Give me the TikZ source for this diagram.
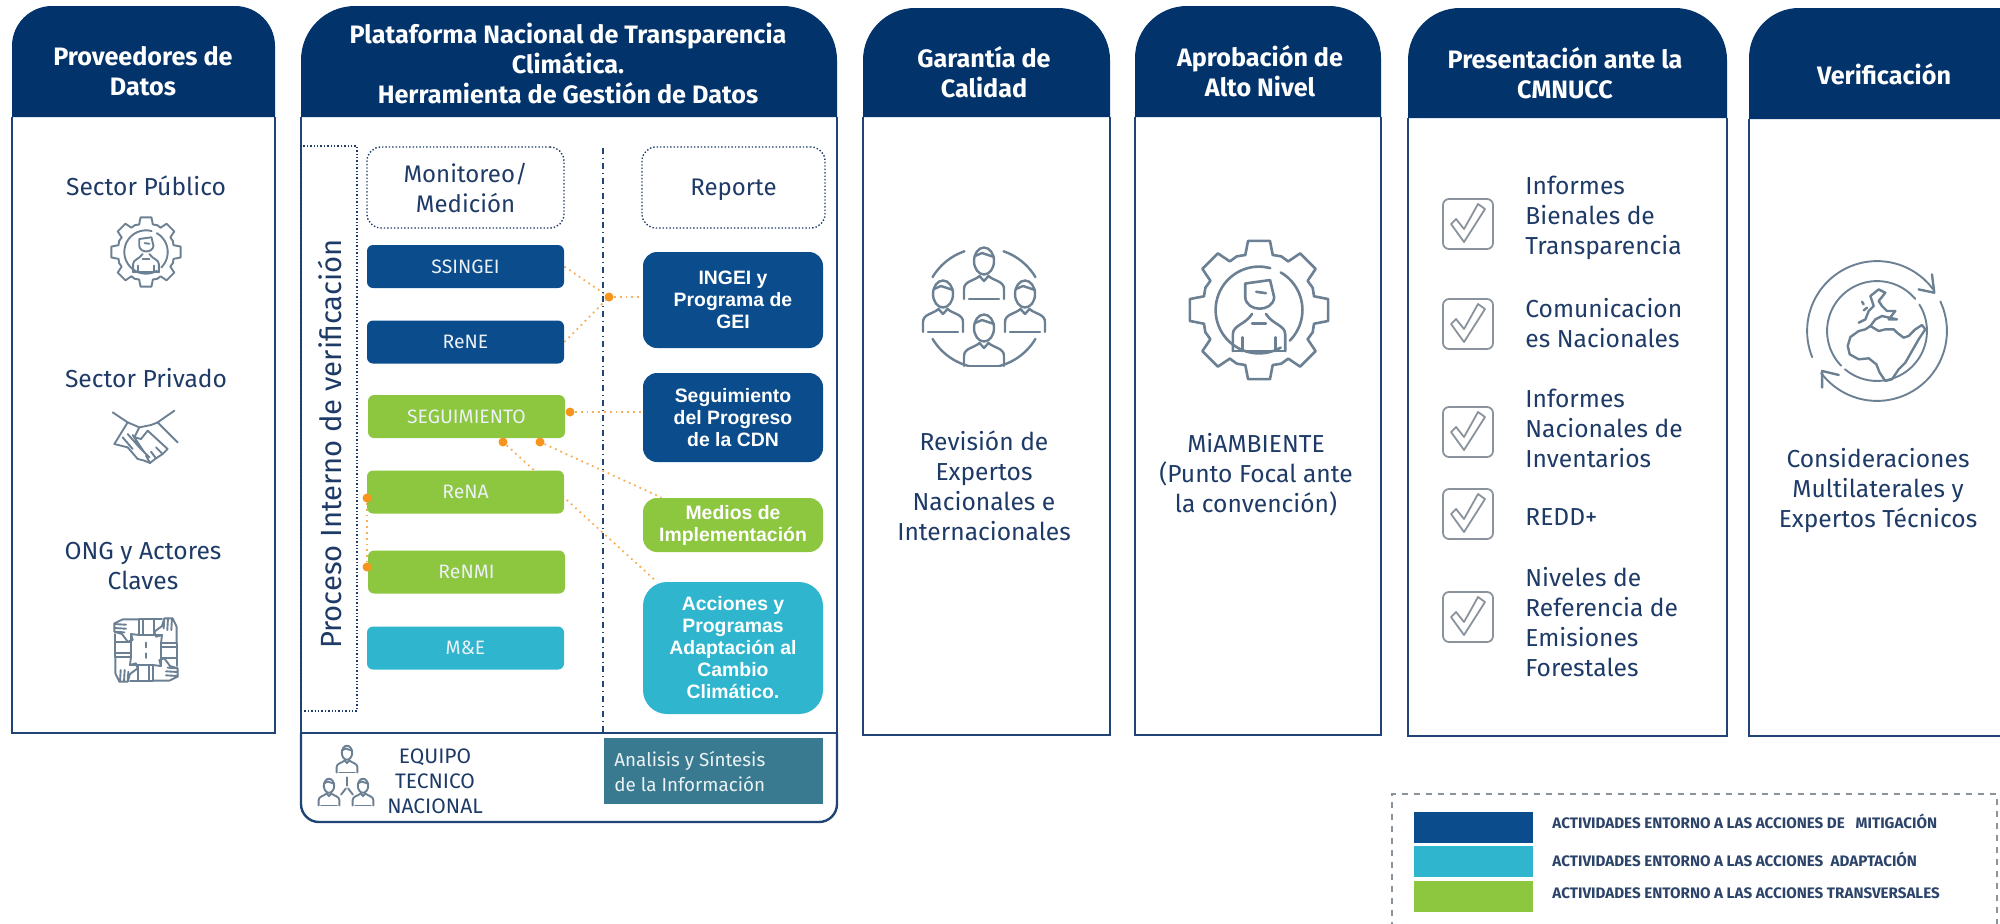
\documentclass[tikz,border=0pt]{standalone}
\usepackage{fontspec}
\setmainfont{Fira Sans}
\newfontfamily\arialfont{Liberation Sans}
\usetikzlibrary{backgrounds}
\definecolor{navy}{HTML}{03336B}
\definecolor{marco}{HTML}{1F4475}
\definecolor{tinta}{HTML}{1E3A66}
\definecolor{azul}{HTML}{0A4C8C}
\definecolor{verde}{HTML}{8DC63F}
\definecolor{cian}{HTML}{2FB6CE}
\definecolor{petroleo}{HTML}{3A7A90}
\definecolor{naranja}{HTML}{F7941D}
\definecolor{icono}{HTML}{6C8093}
\definecolor{gris}{HTML}{8A939C}
\newcommand{\ringarc}[3]{\draw plot[domain=#1:#2,samples=24,smooth] ({#3*cos(\x)},{-#3*sin(\x)});}
\def\grosor{0.95pt}
\tikzset{
	titulo/.style={text=white,align=center,font=\fontsize{12.6}{15}\selectfont\bfseries},
	cuerpo/.style={text=tinta,align=center,font=\fontsize{12.3}{15}\selectfont},
	lista/.style={text=tinta,align=left,anchor=west,inner sep=0pt,font=\fontsize{12.3}{15}\selectfont},
	cajaizq/.style={rounded corners=3pt,minimum width=98.5pt,minimum height=21.5pt,inner sep=0pt,text=white!92!azul,font=\fontsize{9.7}{10}\selectfont},
	cajader/.style={rounded corners=7pt,minimum width=90pt,inner sep=0pt,text=white,align=center,font=\arialfont\fontsize{9.7}{11}\selectfont\bfseries},
	punteada/.style={draw=tinta,densely dotted,line width=0.7pt,rounded corners=7pt,minimum height=40.5pt,inner sep=0pt,text=tinta,align=center,font=\fontsize{12}{15}\selectfont},
	enlace/.style={draw=naranja!75,dotted,line width=0.9pt},
	punto/.style={circle,fill=naranja,inner sep=0pt,minimum size=4.5pt},
	muestra/.style={minimum width=59.5pt,minimum height=15.5pt,inner sep=0pt},
	leyenda/.style={text=tinta!85!gray,anchor=west,inner sep=0pt,font=\fontsize{7.6}{8}\selectfont\bfseries},
	trazo/.style={draw=icono,line width=\grosor,line cap=round,line join=round},
	pics/persona/.style={code={
		\draw[trazo] (0,-28) ellipse (20 and 27);
		\draw[trazo] (-18,-38) -- (-4,-44) -- (20,-36);
		\draw[trazo] (-40,48) -- (-40,28) .. controls (-40,12) and (-20,12) .. (-9,2);
		\draw[trazo] (40,48) -- (40,28) .. controls (40,12) and (20,12) .. (9,2);
		\draw[trazo] (-9,2) -- (0,12) -- (9,2);
		\draw[trazo] (-30,48) -- (30,48);
	}},
	pics/personab/.style={code={
		\draw[trazo] (-20,-30) -- (-20,-50) -- (16,-55) -- (22,-30) .. controls (20,-8) and (-18,-8) .. (-20,-30);
		\draw[trazo] (-4,-38) -- (10,-36);
		\draw[trazo] (-38,48) -- (-38,24) .. controls (-38,10) and (-20,10) .. (-10,-6);
		\draw[trazo] (38,48) -- (38,24) .. controls (38,10) and (20,10) .. (10,-6);
		\draw[trazo] (-10,8) -- (10,8);
		\draw[trazo] (-24,48) -- (-24,28) (24,48) -- (24,28) (-38,48) -- (38,48);
	}},
	pics/engrane/.style={code={
		\foreach \a in {0,45,...,315}{
			\draw[trazo] ({\a-14}:81) -- ({\a-9}:100) -- ({\a+9}:100) -- ({\a+14}:81) -- ({\a+22.5}:83) -- ({\a+31}:81);
		}
		\begin{scope}[trazo]
			\ringarc{75}{300}{62}
			\ringarc{315}{360}{62}
			\ringarc{0}{60}{62}
		\end{scope}
	}},
}
\begin{document}
\begin{tikzpicture}[x=0.5pt,y=-0.5pt,>=stealth]
	\clip (0,0) rectangle (2000,923);
	% columnas
	\foreach \xa/\xb/\yt/\yh/\yb/\rad in {12/275/6/117/733/20pt,301/837/6/117/733/27pt,863/1110/8/117/735/26pt,1135/1381/6/117/735/26pt,1408/1727/8/118/736/26pt,1749/2060/8/119/736/25pt}{
		\fill[navy] (\xa,\yh) [rounded corners=\rad] -- (\xa,\yt) -- (\xb,\yt) [sharp corners] -- (\xb,\yh) -- cycle;
		\draw[marco,line width=1.2pt] (\xa,\yh) -- (\xa,\yb) -- (\xb,\yb) -- (\xb,\yh);
	}
	\draw[marco,line width=1.2pt,rounded corners=9pt] (301,733) -- (301,822) -- (837,822) -- (837,733);
	% titulos
	\node[titulo] (tprov) at (143,71) {Proveedores de\\Datos};
	\node[titulo] (tplat) at (568,63) {Plataforma Nacional de Transparencia\\Climática.\\Herramienta de Gestión de Datos};
	\node[titulo] (tgara) at (984,72) {Garantía de\\Calidad};
	\node[titulo] (tapro) at (1260,71) {Aprobación de\\Alto Nivel};
	\node[titulo] (tpres) at (1565,73) {Presentación ante la\\CMNUCC};
	\node[titulo] (tveri) at (1884,74) {Verificación};
	% proveedores
	\node[cuerpo] (spub) at (146,186) {Sector Público};
	\node[cuerpo] (spri) at (146,378) {Sector Privado};
	\node[cuerpo] (song) at (143,566) {ONG y Actores\\Claves};
	\pic[scale=0.35] at (146,252) {engrane};
	\pic[scale=0.34] at (146,256) {personab};
	\begin{scope}[shift={(146,439)},scale=0.333,trazo]
		\draw (-100,-80) -- (-55,-50) -- (-95,15) (85,-85) -- (35,-50) -- (95,10);
		\draw (-55,-50) -- (-20,-35) -- (15,-42) -- (35,-50);
		\draw (-20,-35) -- (-35,-5) -- (-15,0) -- (5,-25) -- (65,30) -- (50,45) -- (30,58) -- (12,72) -- (-5,65) -- (-25,60);
		\draw (-95,15) -- (-55,25) -- (-25,60);
		\draw (-70,-5) -- (-40,30) (-55,-15) -- (-20,25) (-40,-12) -- (-5,40) (-20,25) -- (10,55);
		\draw (30,25) -- (50,45) (15,38) -- (30,58) (0,50) -- (12,72);
	\end{scope}
	\begin{scope}[shift={(146,650)},scale=0.333,trazo]
		\foreach \a in {0,90,180,270}{
			\begin{scope}[rotate=\a]
				\draw (-20,-92) -- (-70,-92) -- (-95,-80) -- (-95,-55) -- (-72,-48) -- (-55,-25) -- (-40,-30) -- (-45,-48) -- (-20,-45);
				\draw (-95,-78) -- (-60,-76) (-95,-66) -- (-60,-64) (-94,-55) -- (-65,-53);
				\draw (-20,-92) -- (-20,-45) (-8,-92) -- (-8,-45) (25,-92) -- (25,-45) (-20,-92) -- (48,-92) (-20,-45) -- (48,-45);
			\end{scope}
		}
		\draw (0,-22) -- (0,-8) (0,10) -- (0,24);
	\end{scope}
	% plataforma
	\node[draw=tinta,densely dotted,line width=0.7pt,minimum width=28pt,minimum height=282.5pt,inner sep=0pt] (procbox) at (329,428.5) {};
	\node[rotate=90,text=tinta,inner sep=0pt,font=\fontsize{14.6}{18}\selectfont] (proc) at (330,444) {Proceso Interno de verificación};
	\node[punteada,minimum width=98.5pt] (moni) at (465.5,187.5) {Monitoreo/\\Medición};
	\node[punteada,minimum width=91.5pt] (repo) at (733.5,187.5) {\raisebox{0pt}[\height][0pt]{Reporte}};
	\node[inner sep=0pt] (sep1) at (603,147) {};
	\node[inner sep=0pt] (sep2) at (603,733) {};
	\draw[marco,dash dot,line width=0.8pt] (sep1) -- (sep2);
	\node[cajaizq,fill=azul] (ssingei) at (465.5,266.5) {SSINGEI\hspace{5pt}};
	\node[cajaizq,fill=azul] (rene) at (465.5,342) {ReNE};
	\node[cajaizq,fill=verde] (segui) at (466.5,416.5) {SEGUIMIENTO\hspace{8pt}};
	\node[cajaizq,fill=verde] (rena) at (465.5,492) {ReNA};
	\node[cajaizq,fill=verde] (renmi) at (466.5,572) {ReNMI};
	\node[cajaizq,fill=cian] (mye) at (465.5,648) {M\&E};
	\node[cajader,fill=azul,minimum height=48pt] (ingei) at (733,300) {INGEI y\\Programa de\\GEI};
	\node[cajader,fill=azul,minimum height=44.5pt] (sprog) at (733,417.5) {Seguimiento\\del Progreso\\de la CDN};
	\node[cajader,fill=verde,minimum height=27pt] (medios) at (733,525) {Medios de\\Implementación};
	\node[cajader,fill=cian,minimum height=66pt,rounded corners=12pt] (accion) at (733,648) {Acciones y\\Programas\\Adaptación al\\Cambio\\Climático.};
	% enlaces
	\node[punto] (p1) at (609,297) {};
	\node[punto] (p2) at (570,412) {};
	\node[punto] (p3) at (503,442) {};
	\node[punto] (p4) at (540,442) {};
	\node[punto] (p5) at (367,498) {};
	\node[punto] (p6) at (367,567) {};
	\begin{scope}[on background layer]
		\draw[enlace] (ssingei.east) -- (p1);
		\draw[enlace] (rene.east) -- (p1);
		\draw[enlace] (p1) -- (p1 -| ingei.west);
		\draw[enlace] (p2) -- (p2 -| sprog.west);
		\draw[enlace] (p4) -- (medios.159);
		\draw[enlace] (p3) -- (accion.139);
		\draw[enlace] (p5) -- (p6);
	\end{scope}
	% equipo tecnico
	\pic[scale=0.26] at (347,760) {persona};
	\pic[scale=0.26] at (329,793) {persona};
	\pic[scale=0.26] at (363,793) {persona};
	\node[inner sep=0pt] (ram) at (347,787) {};
	\node[inner sep=0pt] (ram1) at (347,776) {};
	\node[inner sep=0pt] (ram2) at (340,796) {};
	\node[inner sep=0pt] (ram3) at (354,796) {};
	\draw[trazo] (ram1) -- (ram) (ram2) -- (ram) -- (ram3);
	\node[text=tinta,align=center,font=\fontsize{10.5}{12.5}\selectfont] (equipo) at (435,781) {EQUIPO\\TECNICO\\NACIONAL};
	\node[fill=petroleo,minimum width=109.5pt,minimum height=33pt,inner sep=0pt] (sint) at (713.5,771) {};
	\node[text=white!90!petroleo,align=left,anchor=west,inner sep=0pt,font=\fontsize{9.4}{12.5}\selectfont] (sintt) at (614,772) {Analisis y Síntesis\\de la Información};
	% garantia
	\begin{scope}[shift={(984,308)}]
		\def\grosor{1.2pt}
		\begin{scope}[trazo]
			\ringarc{109}{149}{60}
			\ringarc{31}{71}{60}
			\ringarc{211}{255}{60}
			\ringarc{285}{329}{60}
		\end{scope}
		\pic[scale=0.5] at (0,-33) {persona};
		\pic[scale=0.5] at (-41,0) {persona};
		\pic[scale=0.5] at (41,0) {persona};
		\pic[scale=0.5] at (0,34) {persona};
	\end{scope}
	\node[cuerpo] (trev) at (984,486) {Revisión de\\Expertos\\Nacionales e\\Internacionales};
	% aprobacion
	\begin{scope}
		\def\grosor{1.3pt}
		\pic[scale=0.7] at (1259,310) {engrane};
		\pic[scale=0.69] at (1259,318) {personab};
	\end{scope}
	\node[cuerpo] (tmia) at (1256,475) {MiAMBIENTE\\(Punto Focal ante\\la convención)};
	% presentacion
	\foreach \yc in {224,324,432,514,617}{
		\begin{scope}[shift={(1468,\yc)},draw=gris,line width=0.9pt,line join=round]
			\draw[rounded corners=3pt] (-25,-25) rectangle (25,25);
			\draw (-17,0) -- (-12,-5) -- (-4,5) -- (10,-20) -- (17,-15) -- (-4,18) -- cycle;
		\end{scope}
	}
	\node[lista] (l1) at (1525,218) {Informes\\Bienales de\\Transparencia};
	\node[lista] (l2) at (1525,323) {Comunicacion\\es Nacionales};
	\node[lista] (l3) at (1525,428) {Informes\\Nacionales de\\Inventarios};
	\node[lista] (l4) at (1525,517) {REDD+};
	\node[lista] (l5) at (1525,622) {Niveles de\\Referencia de\\Emisiones\\Forestales};
	% verificacion
	\begin{scope}[shift={(1877,331)},scale=0.333,trazo]
		\def\grosor{1.2pt}
		\ringarc{36}{202}{210}
		\ringarc{217}{385}{210}
		\ringarc{40}{224}{150}
		\ringarc{230}{392}{150}
		\draw[line width=\grosor] (165,-170) -- (172,-115) -- (125,-125);
		\draw[line width=\grosor] (-165,170) -- (-165,120) -- (-115,132);
		\draw[line width=\grosor] (-55,0) -- (-80,18) -- (-88,45) -- (-82,70) -- (-55,85) -- (-25,82) -- (-2,100) -- (8,125) -- (25,150) -- (45,145) -- (65,115) -- (85,95) -- (105,60) -- (125,25) -- (145,-5) -- (135,-18) -- (115,-5) -- (95,15) -- (80,20) -- (60,5) -- (50,-5) -- (25,-5) -- (5,0) -- (-20,-15) -- (-35,-5) -- (-55,0);
		\draw[line width=\grosor] (-55,-25) -- (-35,-35) -- (-25,-60) -- (-10,-75) -- (-20,-105) -- (5,-125) -- (25,-115) -- (5,-90) -- (15,-75) -- (30,-60) -- (55,-60) -- (35,-35) -- (60,-35) -- (15,-45) -- (-5,-35) -- (-20,-15);
		\draw[line width=\grosor] (-45,-88) -- (-40,-80);
		\draw[line width=\grosor] (-40,-62) -- (-30,-70);
	\end{scope}
	\node[cuerpo] (tcon) at (1878,491) {Consideraciones\\Multilaterales y\\Expertos Técnicos};
	% leyenda
	\draw[gris,dashed,line width=0.8pt] (1392,940) -- (1392,794) -- (1997,794) -- (1997,940);
	\node[muestra,fill=azul] (m1) at (1473.5,827) {};
	\node[muestra,fill=cian] (m2) at (1473.5,861.5) {};
	\node[muestra,fill=verde] (m3) at (1473.5,896.5) {};
	\node[leyenda] (t1) at (1552,821) {ACTIVIDADES ENTORNO A LAS ACCIONES DE \ \ MITIGACIÓN};
	\node[leyenda] (t2) at (1552,859) {ACTIVIDADES ENTORNO A LAS ACCIONES \ ADAPTACIÓN};
	\node[leyenda] (t3) at (1552,893) {ACTIVIDADES ENTORNO A LAS ACCIONES TRANSVERSALES};
\end{tikzpicture}
\end{document}
